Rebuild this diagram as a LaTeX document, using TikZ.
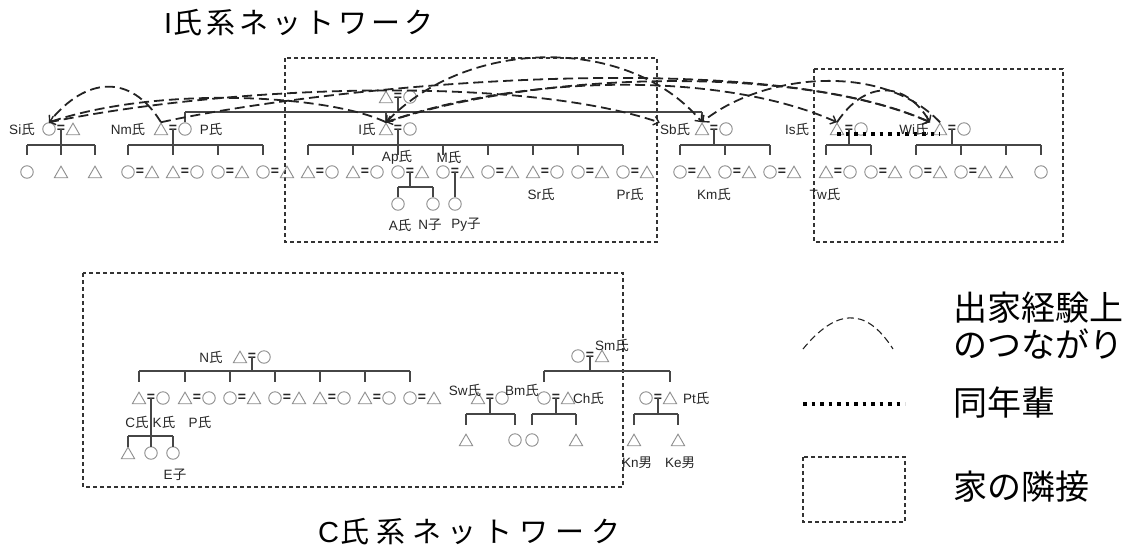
\documentclass[tikz,border=0pt]{standalone}
\usepackage{fontspec}
\setmainfont{Liberation Sans}
\newfontfamily\cjk{Noto Sans CJK JP}
\newfontfamily\cjkti[LetterSpace=14]{Noto Sans CJK JP}
\newfontfamily\cjktc[LetterSpace=24]{Noto Sans CJK JP}
\usetikzlibrary{shapes.geometric,arrows.meta}
\definecolor{symc}{RGB}{140,140,140}
\definecolor{treec}{RGB}{70,70,70}
\definecolor{dashc}{RGB}{35,35,35}
\newcommand\CJshi{{\cjk 氏}}
\newcommand\CJko{{\cjk 子}}
\newcommand\CJotoko{{\cjk 男}}
\newcommand\symF[3]{\node[circ] (#1) at (#2,#3) {};}
\newcommand\symM[3]{\node[tri] (#1) at (#2,#3) {};}
\newcommand\symE[3]{\node[eqs] (#1) at (#2,#3) {=};}
\newcommand\cpl[5]{#4{#1a}{#2}{#3}\symE{#1e}{#2+12}{#3}#5{#1b}{#2+24}{#3}}
\newcommand\kid[3]{\draw[tree] (#1.center |- 0,#2) -- (#1.center |- 0,#3);}
\newcommand\sibbar[3]{\draw[tree] (#1.center |- 0,#3) -- (#2.center |- 0,#3);}
\newcommand\drop[2]{\draw[tree] (#1.center) -- (#1.center |- 0,#2);}
\tikzset{
 circ/.style={circle,draw=symc,line width=0.9pt,minimum size=12.5pt,inner sep=0pt},
 tri/.style={regular polygon,regular polygon sides=3,draw=symc,line width=0.9pt,minimum size=15.5pt,inner sep=0pt,yshift=-1.9pt},
 eqs/.style={inner sep=0pt,text=black!85,font=\fontsize{14}{14}\selectfont\bfseries},
 tree/.style={draw=treec,line width=1.3pt},
 lbl/.style={inner sep=0pt,text=black!85,font=\fontsize{13.5}{14}\selectfont},
 box/.style={draw=black!80,line width=1.2pt,dash pattern=on 4pt off 3pt},
 link/.style={draw=dashc,line width=1.8pt,dash pattern=on 10pt off 5pt},
 legarc/.style={draw=dashc,line width=1.1pt,dash pattern=on 7pt off 4pt},
 peer/.style={draw=black,line width=3.5pt,dash pattern=on 3.5pt off 5pt},
 tipe/.style={-{Straight Barb[length=5pt,width=9pt,line width=1.4pt]}},
 tipb/.style={{Straight Barb[length=5pt,width=9pt,line width=1.4pt]}-{Straight Barb[length=5pt,width=9pt,line width=1.4pt]}},
 leg/.style={inner sep=0pt,anchor=base west,font=\cjk\fontsize{34}{34}\selectfont},
}
\begin{document}
\begin{tikzpicture}[x=1pt,y=-1pt]
\useasboundingbox (0,0) rectangle (1146,547);

% titles
\node[anchor=base west,inner sep=0pt] (t1) at (164,33) {\fontsize{29}{29}\selectfont I\hspace{1pt}\cjkti 氏系ネットワーク};
\node[anchor=base west,inner sep=0pt] (t2) at (318,542) {\fontsize{29}{29}\selectfont C\hspace{1pt}\cjktc 氏系ネットワーク};

% boxes
\draw[box] (285,58) rectangle (657,242);
\draw[box] (814,69) rectangle (1063,242);
\draw[box] (83,273) rectangle (623,487);

% ---------- top network ----------
\cpl{T}{386}{97}{\symM}{\symF}
\cpl{Si}{49}{129}{\symF}{\symM}
\cpl{Nm}{161}{129}{\symM}{\symF}
\cpl{I}{386}{129}{\symM}{\symF}
\cpl{Sb}{702}{129}{\symM}{\symF}
\cpl{Is}{837}{129}{\symM}{\symF}
\cpl{Wi}{940}{129}{\symM}{\symF}

\drop{Te}{112}
\sibbar{Nmb}{Sba}{112}
\kid{Nmb}{112}{122}\kid{Ia}{112}{122}\kid{Sba}{112}{122}

% Si children
\symF{s1}{27}{172}\symM{s2}{61}{172}\symM{s3}{95}{172}
\drop{Sie}{145}\sibbar{s1}{s3}{145}
\kid{s1}{145}{155}\kid{s2}{145}{155}\kid{s3}{145}{155}

% Nm children
\cpl{n1}{128}{172}{\symF}{\symM}
\cpl{n2}{173}{172}{\symM}{\symF}
\cpl{n3}{218}{172}{\symF}{\symM}
\cpl{n4}{263}{172}{\symF}{\symM}
\drop{Nme}{145}\sibbar{n1a}{n4a}{145}
\kid{n1a}{145}{155}\kid{n2a}{145}{155}\kid{n3a}{145}{155}\kid{n4a}{145}{155}

% I children
\cpl{i1}{308}{172}{\symM}{\symF}
\cpl{i2}{353}{172}{\symM}{\symF}
\cpl{i3}{398}{172}{\symF}{\symM}
\cpl{i4}{443}{172}{\symF}{\symM}
\cpl{i5}{488}{172}{\symF}{\symM}
\cpl{i6}{533}{172}{\symM}{\symF}
\cpl{i7}{578}{172}{\symF}{\symM}
\cpl{i8}{623}{172}{\symF}{\symM}
\drop{Ie}{145}\sibbar{i1a}{i8a}{145}
\kid{i1a}{145}{155}\kid{i2a}{145}{155}\kid{i3a}{145}{155}\kid{i4a}{145}{155}
\kid{i5a}{145}{155}\kid{i6a}{145}{155}\kid{i7a}{145}{155}\kid{i8a}{145}{155}

% grandchildren in I
\symF{a1}{398}{204}\symF{a2}{433}{204}
\drop{i3e}{187}\sibbar{a1}{a2}{187}
\kid{a1}{187}{197}\kid{a2}{187}{197}
\symF{py}{455}{204}
\draw[tree] (i4e.center) -- (py.north);

% Sb children
\cpl{b1}{680}{172}{\symF}{\symM}
\cpl{b2}{725}{172}{\symF}{\symM}
\cpl{b3}{770}{172}{\symF}{\symM}
\drop{Sbe}{145}\sibbar{b1a}{b3a}{145}
\kid{b1a}{145}{155}\kid{b2a}{145}{155}\kid{b3a}{145}{155}

% Is children
\cpl{t1}{826}{172}{\symM}{\symF}
\cpl{t2}{871}{172}{\symF}{\symM}
\drop{Ise}{145}\sibbar{t1a}{t2a}{145}
\kid{t1a}{145}{155}\kid{t2a}{145}{155}

% Wi children
\cpl{w1}{916}{172}{\symF}{\symM}
\cpl{w2}{961}{172}{\symF}{\symM}
\symM{w3}{1006}{172}\symF{w4}{1041}{172}
\drop{Wie}{145}\sibbar{w1a}{w4}{145}
\kid{w1a}{145}{155}\kid{w2a}{145}{155}\kid{w3}{145}{155}\kid{w4}{145}{155}

% peer (same generation)
\draw[peer] ([yshift=-3pt]Isa.center) -- ([yshift=-3pt]Wia.center);

% labels top
\node[lbl] (lSi) at (22,129) {Si\CJshi};
\node[lbl] (lNm) at (128,129) {Nm\CJshi};
\node[lbl] (lP) at (211,129) {P\CJshi};
\node[lbl] (lI) at (367,129) {I\CJshi};
\node[lbl] (lSb) at (675,129) {Sb\CJshi};
\node[lbl] (lIs) at (797,129) {Is\CJshi};
\node[lbl] (lWi) at (914,129) {Wi\CJshi};
\node[lbl] (lAp) at (397,157) {Ap\CJshi};
\node[lbl] (lM) at (449,157) {M\CJshi};
\node[lbl] (lSr) at (541,194) {Sr\CJshi};
\node[lbl] (lPr) at (630,194) {Pr\CJshi};
\node[lbl] (lKm) at (714,194) {Km\CJshi};
\node[lbl] (lTw) at (825,194) {Tw\CJshi};
\node[lbl] (lA) at (400,225) {A\CJshi};
\node[lbl] (lN) at (430,225) {N\CJko};
\node[lbl] (lPy) at (466,225) {Py\CJko};

% links (shukke experience)
\draw[link,tipe] (Nma.north) .. controls (130,72) and (85,78) .. (Sia.north);
\draw[link,tipe] (Ia.north) .. controls (330,95) and (160,85) .. (Sia.north);
\draw[link,tipe] (Sia.north) .. controls (230,85) and (520,75) .. (lSb.north west);
\draw[link,tipe] (Nma.north) .. controls (330,85) and (760,45) .. ([xshift=-10pt]Wia.north);
\draw[link,tipb] (Ia.north) .. controls (470,36) and (630,36) .. (Sba.north);
\draw[link,tipb] (Isa.north) .. controls (720,70) and (520,75) .. (Ia.north);
\draw[link,tipe] (Ia.north) .. controls (540,70) and (800,65) .. ([xshift=-10pt]Wia.north);
\draw[link,tipe] (Wia.north) .. controls (880,60) and (760,75) .. (Sba.north);
\draw[link,tipe] (Isa.north) .. controls (865,80) and (905,80) .. ([xshift=-10pt]Wia.north);

% ---------- bottom network ----------
\cpl{N}{240}{357}{\symM}{\symF}
\cpl{c1}{139}{398}{\symM}{\symF}
\cpl{c2}{185}{398}{\symM}{\symF}
\cpl{c3}{230}{398}{\symF}{\symM}
\cpl{c4}{275}{398}{\symF}{\symM}
\cpl{c5}{320}{398}{\symM}{\symF}
\cpl{c6}{365}{398}{\symM}{\symF}
\cpl{c7}{410}{398}{\symF}{\symM}
\drop{Ne}{371}\sibbar{c1a}{c7a}{371}
\kid{c1a}{371}{382}\kid{c2a}{371}{382}\kid{c3a}{371}{382}\kid{c4a}{371}{382}
\kid{c5a}{371}{382}\kid{c6a}{371}{382}\kid{c7a}{371}{382}

\symM{g1}{128}{453}\symF{g2}{151}{453}\symF{g3}{173}{453}
\drop{c1e}{436}\sibbar{g1}{g3}{436}
\kid{g1}{436}{447}\kid{g2}{436}{447}\kid{g3}{436}{447}

\cpl{Sm}{578}{356}{\symF}{\symM}
\cpl{Bm}{544}{398}{\symF}{\symM}
\cpl{Pt}{646}{398}{\symF}{\symM}
\drop{Sme}{371}\sibbar{Bma}{Ptb}{371}
\kid{Bma}{371}{382}\kid{Ptb}{371}{382}

\cpl{Sw}{478}{398}{\symM}{\symF}
\symM{sw1}{466}{440}\symF{sw2}{515}{440}
\drop{Swe}{414}\sibbar{sw1}{sw2}{414}
\kid{sw1}{414}{425}\kid{sw2}{414}{425}

\symF{bm1}{532}{440}\symM{bm2}{576}{440}
\drop{Bme}{414}\sibbar{bm1}{bm2}{414}
\kid{bm1}{414}{425}\kid{bm2}{414}{425}

\symM{pt1}{634}{440}\symM{pt2}{678}{440}
\drop{Pte}{414}\sibbar{pt1}{pt2}{414}
\kid{pt1}{414}{425}\kid{pt2}{414}{425}

% labels bottom
\node[lbl] (lNN) at (211,357) {N\CJshi};
\node[lbl] (lC) at (137,422) {C\CJshi};
\node[lbl] (lK) at (164,422) {K\CJshi};
\node[lbl] (lPP) at (200,422) {P\CJshi};
\node[lbl] (lE) at (175,475) {E\CJko};
\node[lbl] (lSm) at (612,345) {Sm\CJshi};
\node[lbl] (lSw) at (465,390) {Sw\CJshi};
\node[lbl] (lBm) at (522,390) {Bm\CJshi};
\node[lbl,anchor=west] (lCh) at (573,398) {Ch\CJshi};
\node[lbl,anchor=west] (lPt) at (683,398) {Pt\CJshi};
\node[lbl] (lKn) at (637,463) {Kn\CJotoko};
\node[lbl] (lKe) at (680,463) {Ke\CJotoko};

% ---------- legend ----------
\coordinate (la1) at (803,349);
\coordinate (la2) at (893,349);
\draw[legarc] (la1) .. controls (835,310) and (865,305) .. (la2);
\coordinate (ld1) at (803,404);
\coordinate (ld2) at (905,404);
\draw[peer] (ld1) -- (ld2);
\draw[box] (803,457) rectangle (905,522);
\node[leg] (L1) at (953,320) {出家経験上};
\node[leg] (L2) at (953,357) {のつながり};
\node[leg] (L3) at (953,415) {同年輩};
\node[leg] (L4) at (953,499) {家の隣接};
\end{tikzpicture}
\end{document}
